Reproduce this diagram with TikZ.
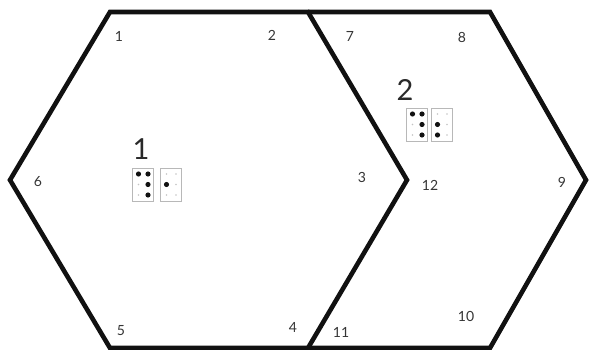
\documentclass[tikz,border=0pt]{standalone}
\usepackage{fontspec}
\setmainfont{Lato}
\usepackage{tikz}
\definecolor{ink}{HTML}{111111}
\definecolor{cellrule}{HTML}{B8B8B8}
\definecolor{blank}{HTML}{C4C4C4}

% one braille cell: #1 = name, #2 = top-left corner, #3 = raised dots
\newcommand{\bcell}[3]{%
  \node[cellbox,anchor=north west] (#1) at (#2) {};
  \foreach \d in {1,...,6}{
    \pgfmathtruncatemacro{\col}{\d>3}
    \pgfmathtruncatemacro{\row}{mod(\d-1,3)}
    \fill[blank] ([xshift=6.5pt+9.5*\col pt,yshift=-6pt-10.5*\row pt]#1.north west) circle (0.9pt);
  }
  \foreach \d in {#3}{
    \pgfmathtruncatemacro{\col}{\d>3}
    \pgfmathtruncatemacro{\row}{mod(\d-1,3)}
    \fill[ink] ([xshift=6.5pt+9.5*\col pt,yshift=-6pt-10.5*\row pt]#1.north west) circle (2.6pt);
  }
}

\begin{document}
\begin{tikzpicture}[
  x=1pt, y=-1pt,
  hexline/.style={draw=ink,line width=4.6pt,line join=miter},
  corner/.style={font=\fontsize{14}{14}\selectfont,text=ink!85,inner sep=0pt},
  hexname/.style={font=\fontsize{29}{29}\selectfont,text=ink!90,inner sep=0pt},
  cellbox/.style={draw=cellrule,line width=0.5pt,minimum width=21pt,minimum height=33pt,inner sep=0pt},
]
\useasboundingbox (0,0) rectangle (589,350);

% --- the two hexagons ------------------------------------------------------
\draw[hexline] (110,12) -- (308,12) -- (407,180) -- (308,348) -- (110,348) -- (10,180) -- cycle;
\draw[hexline] (308,12) -- (490,12) -- (586,180) -- (490,348) -- (308,348);

% --- corner numbers ----------------------------------------------------------
\node[corner] (n1)  at (119,36)  {1};
\node[corner] (n2)  at (272,35)  {2};
\node[corner] (n3)  at (362,177) {3};
\node[corner] (n4)  at (293,327) {4};
\node[corner] (n5)  at (121,331) {5};
\node[corner] (n6)  at (38,182)  {6};
\node[corner] (n7)  at (350,36)  {7};
\node[corner] (n8)  at (462,37)  {8};
\node[corner] (n9)  at (562,182) {9};
\node[corner] (n10) at (466,316) {10};
\node[corner] (n11) at (341,332) {11};
\node[corner] (n12) at (430,185) {12};

% --- hexagon names and their braille ---------------------------------------
\node[hexname] (h1) at (141,149) {1};
\bcell{c1a}{132,168}{1,4,5,6}
\bcell{c1b}{160,168}{2}

\node[hexname] (h2) at (405,90) {2};
\bcell{c2a}{406,108}{1,4,5,6}
\bcell{c2b}{431,108}{2,3}
\end{tikzpicture}
\end{document}
